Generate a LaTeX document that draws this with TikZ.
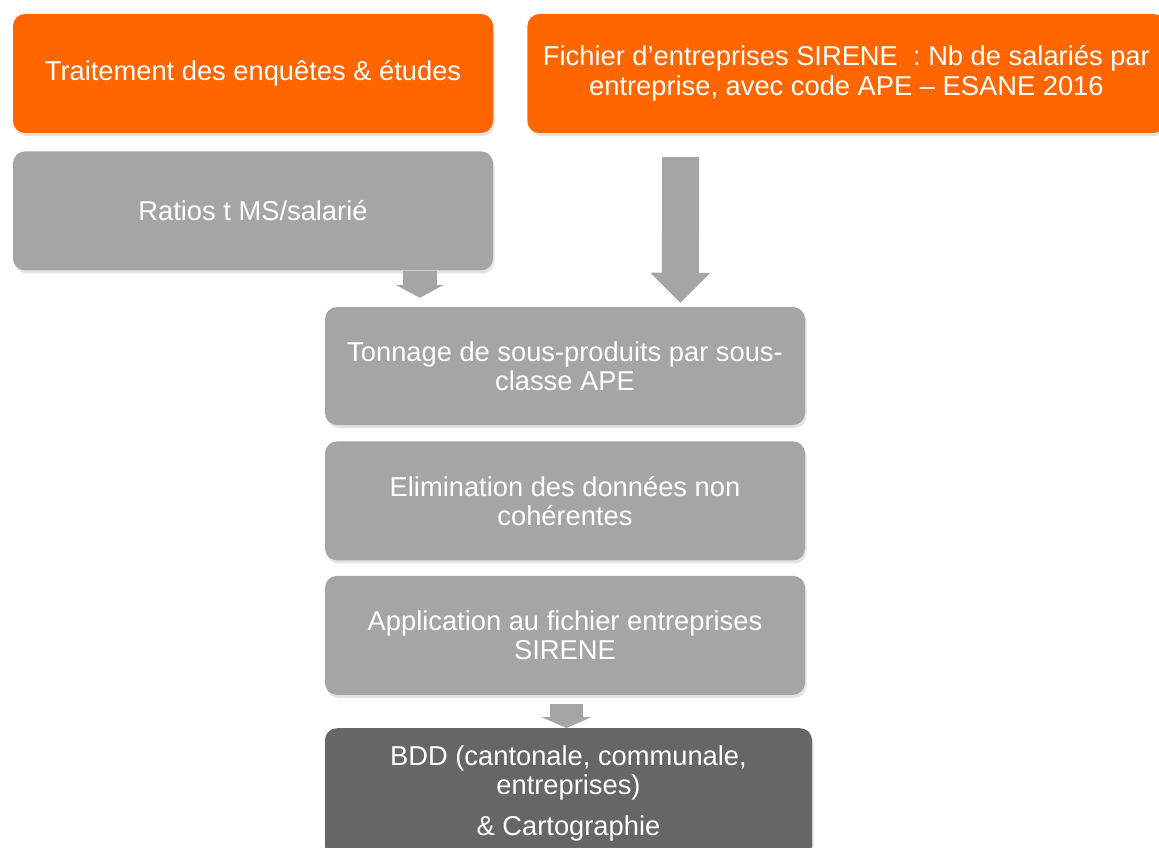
\documentclass[tikz,border=0pt]{standalone}
\usepackage{fontspec}
\setmainfont{Liberation Sans}
\usepackage{tikz}
\usetikzlibrary{positioning,calc,shadows,arrows.meta}
\definecolor{orangebg}{RGB}{255,102,0}
\definecolor{greybg}{RGB}{165,165,165}
\definecolor{darkbg}{RGB}{102,102,102}
\tikzset{node distance=16pt, auto,
  box/.style={rounded corners=12pt, text=white, align=center,
    minimum width=480pt, minimum height=119pt, inner sep=0pt,
    font=\fontsize{27.3}{29.5}\selectfont,
    drop shadow={shadow xshift=1.5pt, shadow yshift=-3pt, opacity=0.22}},
  orangebox/.style={box, fill=orangebg},
  greybox/.style={box, fill=greybg},
  darkbox/.style={box, fill=darkbg},
  blockarrow/.style={draw=greybg, line cap=butt}
}
\begin{document}
\begin{tikzpicture}[x=1pt,y=-1pt]
\useasboundingbox[fill=white] (0,0) rectangle (1159,848);
% sources
\node[orangebox] (traitement) at (253,73.5) {Traitement des enquêtes \& études};
\node[orangebox, minimum width=638pt, right=34pt of traitement] (fichier)
  {Fichier d’entreprises SIRENE\ \ : Nb de salariés par\\entreprise, avec code APE – ESANE 2016};
\node[greybox, below=18pt of traitement] (ratios) {Ratios t MS/salarié};
% chain
\node[greybox, minimum height=118pt] (tonnage) at (565,366) {Tonnage de sous-produits par sous-\\classe APE};
\node[greybox, below=16pt of tonnage] (elimination) {Elimination des données non\\cohérentes};
\node[greybox, below=15pt of elimination] (application) {Application au fichier entreprises\\SIRENE};
\node[darkbox, minimum width=487pt, minimum height=130pt, below=33pt of application, xshift=3.5pt] (bdd)
  {BDD (cantonale, communale,\\entreprises)\\[11pt]\& Cartographie};
% arrows
\draw[blockarrow, line width=37pt, -{Triangle[width=58pt,length=30pt]}]
  ($(fichier.south west)+(153.5pt,-24pt)$) -- ($(tonnage.north west)+(355.5pt,4pt)$);
\draw[blockarrow, line width=34pt, -{Triangle[width=48pt,length=13pt]}]
  ($(ratios.south west)+(407pt,0pt)$) -- ($(tonnage.north west)+(95pt,9pt)$);
\draw[blockarrow, line width=33pt, -{Triangle[width=50pt,length=11pt]}]
  ($(application.south)+(1.5pt,-9pt)$) -- ($(bdd.north)+(-2pt,0pt)$);
\end{tikzpicture}
\end{document}
